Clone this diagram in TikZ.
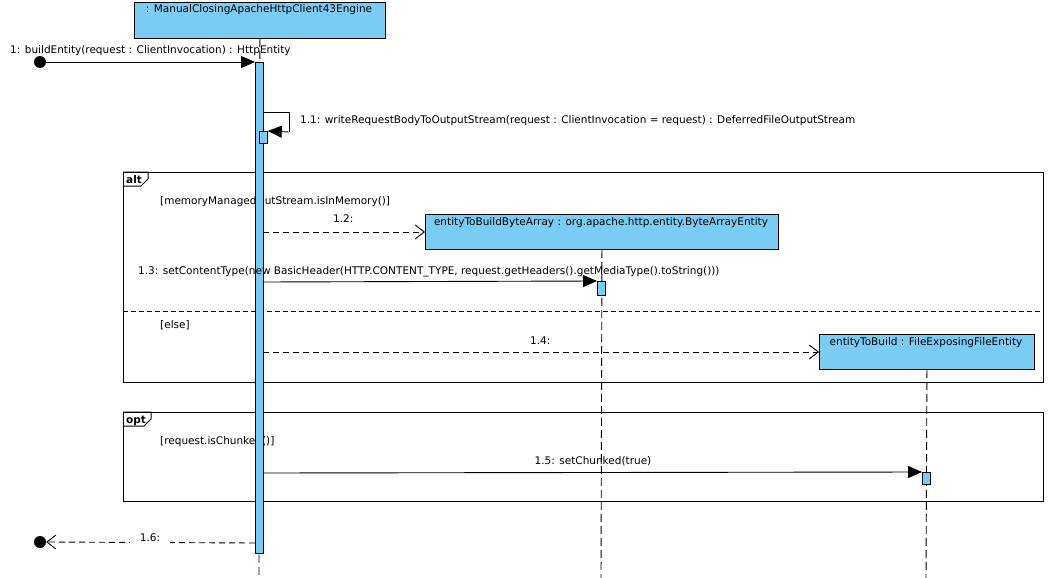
\documentclass[tikz,border=0pt]{standalone}
\usepackage{fontspec}
\setmainfont{DejaVu Sans}
\usetikzlibrary{arrows.meta}
\definecolor{lb}{RGB}{122,204,245}
\begin{document}
\begin{tikzpicture}[x=1pt,y=-1pt,
  font=\fontsize{10.5}{12}\selectfont,
  objbox/.style={draw, fill=lb, line width=0.9pt, anchor=north west, inner sep=0pt},
  actbar/.style={draw, fill=lb, line width=0.8pt, anchor=north west, inner sep=0pt, minimum width=8pt},
  lifeline/.style={line width=0.9pt, dash pattern=on 8pt off 4pt},
  frame/.style={line width=1pt},
  txt/.style={anchor=base west, inner sep=0pt},
  syncmsg/.style={line width=0.9pt, -{Triangle[length=14pt,width=12pt]}},
  replymsg/.style={line width=0.9pt, dash pattern=on 6pt off 4pt, -{Straight Barb[length=9pt,width=14pt,line width=0.9pt]}},
  enddot/.style={circle, fill=black, inner sep=0pt, minimum size=12pt},
  flabel/.style={anchor=base west, inner sep=0pt, font=\fontsize{10.5}{12}\selectfont\bfseries}]
\useasboundingbox (0,0) rectangle (1049,578);

% ---- lifeline heads
\node[objbox, minimum width=251pt, minimum height=36pt] (eng) at (134,2) {};
\node[anchor=base, inner sep=0pt] (engt) at (259,13) {: ManualClosingApacheHttpClient43Engine};
\node[objbox, minimum width=353pt, minimum height=35pt] (bae) at (425,214) {};
\node[anchor=base, inner sep=0pt] (baet) at (601,225) {entityToBuildByteArray : org.apache.http.entity.ByteArrayEntity};
\node[objbox, minimum width=215pt, minimum height=35pt] (ffe) at (819,334) {};
\node[anchor=base, inner sep=0pt] (ffet) at (926,345) {entityToBuild : FileExposingFileEntity};

% ---- lifelines
\coordinate (engend) at (259,578);
\coordinate (baeend) at (601,578);
\coordinate (ffeend) at (926,578);
\draw[lifeline] (eng.south) -- (engend);
\draw[lifeline] (bae.south) -- (baeend);
\draw[lifeline] (ffe.south) -- (ffeend);

% ---- frames
\draw[frame] (123,172) rectangle (1043,382);
\draw[frame] (123,172) -- (148,172) -- (148,179) -- (141,186) -- (123,186);
\node[flabel] (altl) at (126,183) {alt};
\draw[line width=0.9pt, dash pattern=on 5pt off 3pt] (123,311) -- (1043,311);
\node[txt] (g1) at (160,204) {[memoryManagedOutStream.isInMemory()]};
\node[txt] (g2) at (160,328) {[else]};

\draw[frame] (123,412) rectangle (1043,501);
\draw[frame] (123,412) -- (151,412) -- (151,419) -- (144,426) -- (123,426);
\node[flabel] (optl) at (126,423) {opt};
\node[txt] (g3) at (160,444) {[request.isChunked()]};

% ---- activation bars
\node[actbar, minimum height=491pt] (a1) at (255,62) {};
\node[actbar, minimum height=12pt] (a11) at (259,131) {};
\node[actbar, minimum height=14pt] (a13) at (597,281) {};
\node[actbar, minimum height=12pt] (a15) at (922,472) {};

% ---- found / lost endpoints
\node[enddot] (start) at (40,62) {};
\node[enddot] (stop) at (40,542) {};

% ---- message 1
\draw[syncmsg] (start.center) -- (a1.north west);
\node[txt] (m1) at (10,54) {1: buildEntity(request : ClientInvocation) : HttpEntity};

% ---- message 1.1 (self)
\coordinate (s1) at (263,112);
\coordinate (s2) at (289,112);
\coordinate (s3) at (289,132);
\draw[line width=0.9pt] (s1) -- (s2) -- (s3);
\draw[syncmsg] (s3) -- (a11.north east);
\node[txt] (m11) at (300,123) {1.1: writeRequestBodyToOutputStream(request : ClientInvocation = request) : DeferredFileOutputStream};

% ---- message 1.2
\coordinate (m12s) at (263,232);
\draw[replymsg] (m12s) -- (bae.west |- m12s);
\node[txt] (m12) at (333,222) {1.2:};

% ---- message 1.3
\coordinate (m13s) at (263,282);
\draw[syncmsg] (m13s) -- (a13.north west);
\node[txt] (m13) at (138,274) {1.3: setContentType(new BasicHeader(HTTP.CONTENT\_TYPE, request.getHeaders().getMediaType().toString()))};

% ---- message 1.4
\coordinate (m14s) at (263,352);
\draw[replymsg] (m14s) -- (ffe.west |- m14s);
\node[txt] (m14) at (530,344) {1.4:};

% ---- message 1.5
\coordinate (m15s) at (263,473);
\draw[syncmsg] (m15s) -- (a15.north west);
\node[anchor=base, inner sep=0pt] (m15) at (593,464) {1.5: setChunked(true)};

% ---- message 1.6
\coordinate (m16s) at (255,543);
\draw[replymsg] (m16s) -- (stop.east);
\node[fill=white, inner xsep=10pt, inner ysep=3pt, anchor=base] (m16) at (150,541) {1.6:};
\end{tikzpicture}
\end{document}
